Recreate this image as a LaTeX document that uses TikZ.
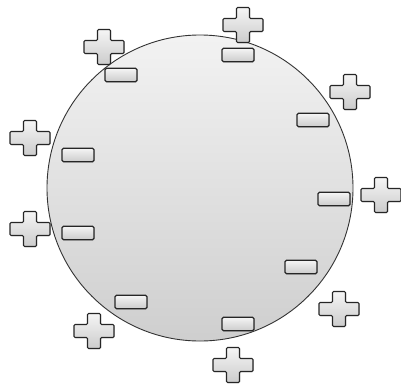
\documentclass[tikz,border=0pt]{standalone}
\usetikzlibrary{shadows}
\tikzset{
        charge/.style={draw=black!85, line width=1.1pt, top color=gray!8, bottom color=gray!40,
                drop shadow={opacity=0.25, shadow xshift=0.8pt, shadow yshift=-0.8pt}},
        minus/.style={charge, rectangle, rounded corners=1.5pt, minimum width=32pt,
                minimum height=13.5pt, inner sep=0pt},
        pics/plussign/.style={code={
                \path[charge, rounded corners=1.2pt] (-6.5,-17.5) -- (6.5,-17.5) -- (6.5,-6.5)
                        -- (20,-6.5) -- (20,6.5) -- (6.5,6.5) -- (6.5,17.5) -- (-6.5,17.5)
                        -- (-6.5,6.5) -- (-20,6.5) -- (-20,-6.5) -- (-6.5,-6.5) -- cycle;
        }}
}
\begin{document}
\begin{tikzpicture}[x=1pt, y=-1pt]
        \useasboundingbox (0,0) rectangle (401,383);
        \shade[draw=black!80, line width=0.9pt, top color=gray!10, bottom color=gray!38]
                (200,188) circle[radius=153];
        % charges on the surface
        \node[minus] (m1) at (121,75) {};
        \node[minus] (m2) at (238,55) {};
        \node[minus] (m3) at (313,120) {};
        \node[minus] (m4) at (78,155) {};
        \node[minus] (m5) at (78,233) {};
        \node[minus] (m6) at (334,199) {};
        \node[minus] (m7) at (301,267) {};
        \node[minus] (m8) at (131,302) {};
        \node[minus] (m9) at (238,324) {};
        % charges outside
        \pic (p1) at (104,47) {plussign};
        \pic (p2) at (243,25) {plussign};
        \pic (p3) at (350,92) {plussign};
        \pic (p4) at (30,138) {plussign};
        \pic (p5) at (30,229) {plussign};
        \pic (p6) at (381,195) {plussign};
        \pic (p7) at (339,309) {plussign};
        \pic (p8) at (94,331) {plussign};
        \pic (p9) at (233,365) {plussign};
\end{tikzpicture}
\end{document}
